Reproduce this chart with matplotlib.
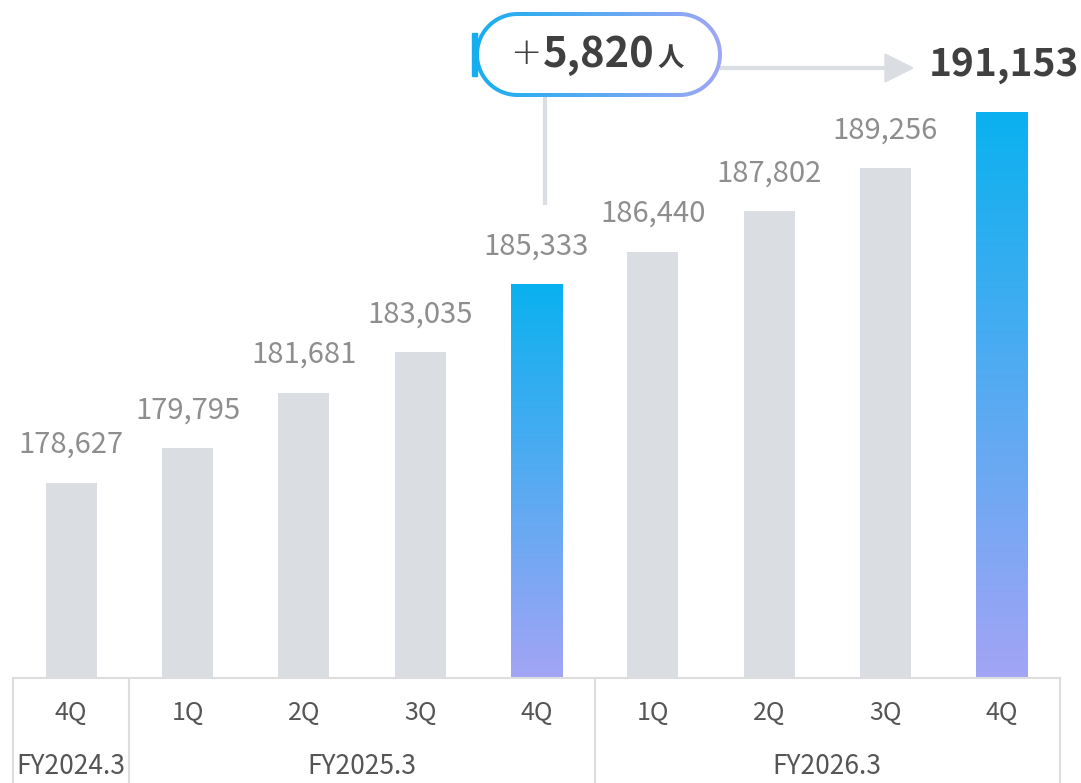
import matplotlib
matplotlib.use('Agg')
import matplotlib.pyplot as plt
import numpy as np
from matplotlib.patches import Polygon
from matplotlib.colors import LinearSegmentedColormap
from matplotlib.transforms import blended_transform_factory

plt.rcParams['font.family'] = ['Noto Sans CJK JP', 'DejaVu Sans']

# data
quarters = ['4Q', '1Q', '2Q', '3Q', '4Q', '1Q', '2Q', '3Q', '4Q']
values = [178627, 179795, 181681, 183035, 185333, 186440, 187802, 189256, 191153]
highlight = [4, 8]
fy_labels = ['FY2024.3', 'FY2025.3', 'FY2026.3']
fy_spans = [(0, 0), (1, 4), (5, 8)]
diff_label = '5,820'

gray = '#dadde2'
txt_gray = '#8e8e8e'
dark = '#404040'
line_col = '#dddddd'
grad = LinearSegmentedColormap.from_list('g', ['#a3a4f5', '#0ab1ef'])


def stadium(x0, x1, cy, r, n=60):
    # pill outline: straight sides between x0 and x1, round ends of radius r
    a = np.linspace(-np.pi / 2, np.pi / 2, n)
    right = np.column_stack([x1 + r * np.cos(a), cy + r * np.sin(a)])
    a2 = np.linspace(np.pi / 2, 3 * np.pi / 2, n)
    left = np.column_stack([x0 + r * np.cos(a2), cy + r * np.sin(a2)])
    return np.vstack([right, left])


W, H = 1081, 783
fig = plt.figure(figsize=(W / 100, H / 100), dpi=100)
ax_bottom = 1 - 678 / H
ax = fig.add_axes([13 / W, ax_bottom, 1047 / W, 1 - ax_bottom])
ylo = 172044
yhi = ylo + 678 * 33.76
ax.axis('off')

x = np.arange(len(values))
bars = ax.bar(x, np.array(values) - ylo, bottom=ylo, width=0.44, color=gray, zorder=2)
g = np.linspace(0, 1, 256).reshape(-1, 1)
for i in highlight:
    b = bars[i]
    b.set_facecolor('none')
    im = ax.imshow(g, cmap=grad, aspect='auto', origin='lower',
                   extent=[b.get_x(), b.get_x() + b.get_width(), ylo, values[i]], zorder=2)
    im.set_clip_path(b)
ax.set_xlim(-0.5, len(values) - 0.5)
ax.set_ylim(ylo, yhi)

for i, v in enumerate(values[:-1]):
    ax.annotate(f'{v:,}', (i, v), xytext=(0, 38), textcoords='offset pixels',
                ha='center', va='center', fontsize=21, color=txt_gray)

# table below the bars
tr = blended_transform_factory(ax.transData, fig.transFigure)
ax.plot([-0.5, len(values) - 0.5], [ax_bottom, ax_bottom], transform=tr, color=line_col, lw=1.5, clip_on=False)
for xb in [-0.5, 0.5, 4.5, 8.5]:
    ax.plot([xb, xb], [0, ax_bottom], transform=tr, color=line_col, lw=1.5, clip_on=False)
for i, q in enumerate(quarters):
    ax.text(i, 1 - 713 / H, q, transform=tr, ha='center', va='center', fontsize=18, color='#555555')
for lab, (a, b) in zip(fy_labels, fy_spans):
    ax.text((a + b) / 2, 1 - 766 / H, lab, transform=tr, ha='center', va='center', fontsize=19, color='#555555')

# overlay in pixel coords for the callout
ov = fig.add_axes([0, 0, 1, 1], zorder=5)
ov.axis('off')

# connector from callout down to the 4Q bar label
ov.plot([545, 545], [97, 205], color=gray, lw=3, solid_capstyle='butt')
# arrow to last value
ov.plot([722, 888], [68, 68], color=gray, lw=3)
ov.add_patch(Polygon([[885, 54], [885, 82], [913, 68]], closed=True, color=gray))

# pill with gradient outline
hgrad = np.linspace(0, 1, 256).reshape(1, -1)
hcmap = LinearSegmentedColormap.from_list('h', ['#15aeef', '#a3a6f6'])
outer = Polygon(stadium(517.5, 679.5, 54.5, 42.5), closed=True, facecolor='none', edgecolor='none')
ov.add_patch(outer)
im2 = ov.imshow(hgrad, cmap=hcmap, aspect='auto', extent=[470, 728, 100, 8], zorder=3)
im2.set_clip_path(outer)
ov.add_patch(Polygon(stadium(517.5, 679.5, 54.5, 38.5), closed=True,
                     facecolor='white', edgecolor='none', zorder=4))
ov.add_patch(plt.Rectangle((472, 33), 5, 43, color='#15aeef', zorder=5))
ov.set_xlim(0, W)
ov.set_ylim(H, 0)

ov.text(526, 54, '+', ha='center', va='center', fontsize=27, family='DejaVu Sans',
        fontweight='light', color=dark, zorder=6)
ov.text(655, 55, diff_label, ha='right', va='center', fontsize=30, fontweight='bold', color=dark, zorder=6)
ov.text(657, 58, '人', ha='left', va='center', fontsize=19, fontweight='bold', color=dark, zorder=6)
ov.text(1079, 65, f'{values[-1]:,}', ha='right', va='center', fontsize=28, fontweight='bold', color=dark, zorder=6)

fig.savefig('out.png', dpi=100)
